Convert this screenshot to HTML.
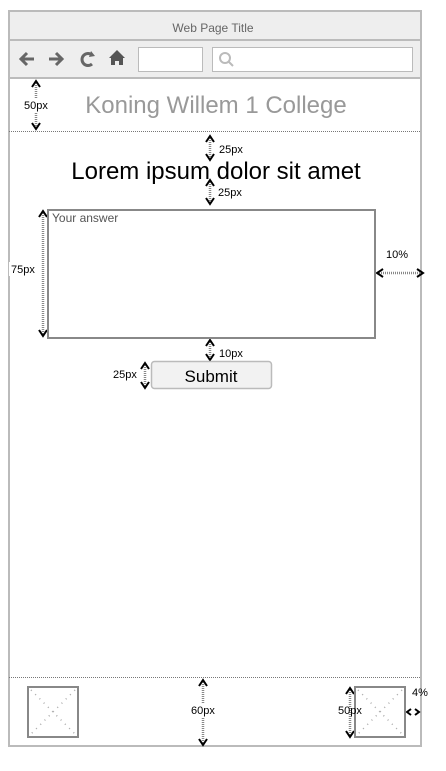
<!DOCTYPE html>
<html><head><meta charset="utf-8"><style>
html,body{margin:0;padding:0;background:#fff;width:446px;height:771px;overflow:hidden}
svg{display:block;font-family:"Liberation Sans",Arial,sans-serif}
</style></head><body>
<svg width="446" height="771" viewBox="0 0 446 771" xmlns="http://www.w3.org/2000/svg">
<!-- frame -->
<rect x="9" y="11" width="412" height="735" fill="#fff" stroke="#bbb" stroke-width="2"/>
<rect x="9" y="11" width="412" height="29" fill="#eee" stroke="#bbb" stroke-width="2"/>
<rect x="9" y="40" width="412" height="38" fill="#eee" stroke="#bbb" stroke-width="2"/>
<text x="213" y="32" font-size="12" fill="#666" text-anchor="middle">Web Page Title</text>
<!-- toolbar icons -->
<g stroke="#666" stroke-width="3" fill="none">
<path d="M34 59 H21 M27 53 L21 59 L27 65"/>
<path d="M49 59 H62 M56 53 L62 59 L56 65"/>
<path d="M92 55 A6 6 0 1 0 92 64"/>
</g>
<polygon points="91,51 95,56 89,57" fill="#666"/>
<polygon points="117,50 109,58 111,58 111,65 115,65 115,61 119,61 119,65 123,65 123,58 125,58" fill="#555"/>
<rect x="138.5" y="47.5" width="64" height="24" fill="#fff" stroke="#bbb"/>
<rect x="212.5" y="47.5" width="200" height="24" fill="#fff" stroke="#bbb"/>
<circle cx="225" cy="58" r="5" fill="none" stroke="#bbb" stroke-width="2"/>
<line x1="229" y1="62" x2="233" y2="66" stroke="#bbb" stroke-width="2"/>
<!-- header -->
<text x="216" y="113" font-size="24" fill="#999" text-anchor="middle">Koning Willem 1 College</text>
<line x1="9" y1="131.5" x2="421" y2="131.5" stroke="#777" stroke-dasharray="1,1"/>
<line x1="9" y1="677.5" x2="421" y2="677.5" stroke="#777" stroke-dasharray="1,1"/>
<g stroke="#888" stroke-width="2.5" stroke-dasharray="1,1">
<line x1="36" y1="81" x2="36" y2="129"/>
<line x1="210" y1="136" x2="210" y2="160"/>
<line x1="210" y1="180" x2="210" y2="204"/>
<line x1="43" y1="211" x2="43" y2="336"/>
<line x1="377" y1="273" x2="423" y2="273"/>
<line x1="210" y1="340" x2="210" y2="360"/>
<line x1="145" y1="363" x2="145" y2="388"/>
<line x1="203" y1="680" x2="203" y2="745"/>
<line x1="350" y1="688" x2="350" y2="737"/>
</g>
<!-- arrowheads -->
<g fill="none" stroke="#000" stroke-width="2">
<polyline points="32,87 36,81 40,87"/><polyline points="32,123 36,129 40,123"/>
<polyline points="206,142 210,136 214,142"/><polyline points="206,154 210,160 214,154"/>
<polyline points="206,186 210,180 214,186"/><polyline points="206,198 210,204 214,198"/>
<polyline points="39,217 43,211 47,217"/><polyline points="39,330 43,336 47,330"/>
<polyline points="383,269 377,273 383,277"/><polyline points="417,269 423,273 417,277"/>
<polyline points="206,346 210,340 214,346"/><polyline points="206,354 210,360 214,354"/>
<polyline points="141,369 145,363 149,369"/><polyline points="141,382 145,388 149,382"/>
<polyline points="199,686 203,680 207,686"/><polyline points="199,739 203,745 207,739"/>
<polyline points="346,694 350,688 354,694"/><polyline points="346,731 350,737 354,731"/>
<polyline points="411,709 407,712 411,715"/><polyline points="415,709 419,712 415,715"/>
</g>
<!-- title -->
<text x="216" y="179" font-size="24" fill="#000" text-anchor="middle">Lorem ipsum dolor sit amet</text>
<!-- textarea -->
<rect x="48" y="210" width="327" height="128" fill="#fff" stroke="#888" stroke-width="2"/>
<text x="52" y="222" font-size="12" fill="#555">Your answer</text>
<!-- submit -->
<rect x="151.5" y="361.5" width="120" height="27" rx="3" fill="#f2f2f2" stroke="#bbb" stroke-width="1.5"/>
<text x="211" y="382" font-size="17" fill="#000" text-anchor="middle">Submit</text>
<!-- footer images -->
<g>
<rect x="28" y="687" width="50" height="50" fill="#fff" stroke="#888" stroke-width="2"/>
<path d="M31 690 L75 734 M75 690 L31 734" stroke="#aaa" stroke-width="1.5" stroke-dasharray="1,5"/>
<rect x="355" y="687" width="50" height="50" fill="#fff" stroke="#888" stroke-width="2"/>
<path d="M358 690 L402 734 M402 690 L358 734" stroke="#aaa" stroke-width="1.5" stroke-dasharray="1,5"/>
</g>
<!-- labels -->
<g font-size="11" fill="#000">
<rect x="22" y="98" width="28" height="14" fill="#fff"/>
<text x="24" y="109">50px</text>
<text x="219" y="153">25px</text>
<text x="218" y="196">25px</text>
<rect x="9" y="262" width="28" height="14" fill="#fff"/>
<text x="11" y="273">75px</text>
<text x="386" y="258">10%</text>
<text x="219" y="357">10px</text>
<text x="113" y="378">25px</text>
<rect x="189" y="703" width="28" height="14" fill="#fff"/>
<text x="191" y="714">60px</text>
<text x="338" y="714">50px</text>
<text x="412" y="696">4%</text>
</g>
</svg>
</body></html>
